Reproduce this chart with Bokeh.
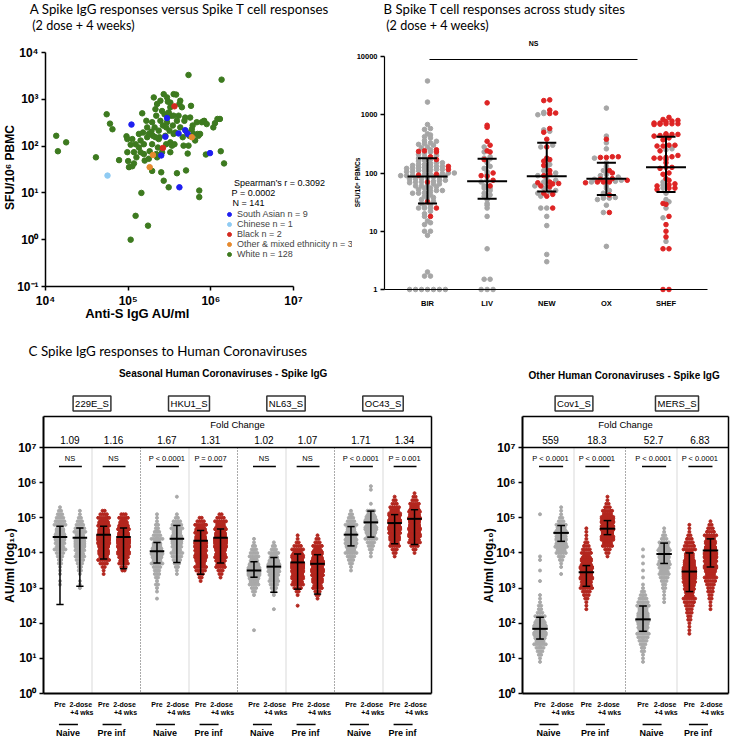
import math
import json
import numpy as np
from bokeh.plotting import figure
from bokeh.models import (Label, Arrow, FixedTicker, Legend, LegendItem,
                          Range1d, CustomJSTickFormatter)
from bokeh.layouts import row, column
from bokeh.embed import file_html
from bokeh.resources import INLINE

# ====================== DATA ======================
# Panel A: log10(anti-S IgG AU/ml) and log10(SFU / 10^6 PBMC) per participant
a_white_log_igg = [4.13, 4.15, 4.25, 4.61, 4.74, 4.78, 4.81, 4.89, 4.98, 4.99,
                   4.99, 5.00, 5.01, 5.03, 5.05, 5.07, 5.09, 5.10, 5.13, 5.15,
                   5.16, 5.17, 5.18, 5.19, 5.20, 5.22, 5.23, 5.03, 5.09, 5.24,
                   5.25, 5.26, 5.28, 5.29, 5.30, 5.32, 5.33, 5.34, 5.35, 5.36,
                   5.37, 5.38, 5.39, 5.40, 5.41, 5.42, 5.43, 5.44, 5.45, 5.46,
                   5.47, 5.48, 5.49, 5.49, 5.50, 5.51, 5.52, 5.53, 5.54, 5.55,
                   5.56, 5.58, 5.59, 5.61, 5.62, 5.63, 5.65, 5.66, 5.68, 5.70,
                   5.72, 5.73, 5.73, 5.74, 5.76, 5.77, 5.78, 5.81, 5.83, 5.84,
                   5.86, 5.86, 5.87, 5.89, 5.91, 5.94, 6.05, 6.08, 6.11, 6.12,
                   6.13, 6.16, 5.31, 5.35, 5.39, 5.47, 5.29, 5.37, 5.55, 5.63,
                   5.13, 5.15, 5.05, 5.07, 5.25, 5.29, 5.34, 5.51, 5.57, 5.69,
                   5.75, 5.79, 5.85, 5.92, 6.03, 5.95, 5.41, 5.43, 5.59, 5.19,
                   5.23, 5.51, 5.33, 5.46, 5.55, 5.71, 5.67, 5.51]
a_white_log_sfu = [2.22, 1.89, 2.08, 1.76, 2.68, 2.48, 2.36, 1.70, 2.21, 2.15,
                   1.87, 1.68, 1.55, 2.03, 1.57, 1.63, 2.04, 1.76, 1.97, 1.87,
                   1.00, 2.70, 2.29, 2.04, 1.69, 2.54, 2.19, 0.00, 0.51, 0.30,
                   2.26, 1.89, 2.31, 2.04, 2.22, 2.40, 2.79, 2.65, 1.76, 1.97,
                   2.33, 2.19, 2.54, 1.44, 1.87, 2.44, 1.26, 2.68, 2.22, 2.04,
                   2.51, 2.95, 2.72, 1.12, 2.33, 2.08, 2.65, 2.01, 2.44, 2.26,
                   2.04, 3.10, 1.42, 2.65, 2.90, 2.40, 2.83, 2.19, 2.54, 1.48,
                   1.84, 2.01, 3.52, 2.22, 2.86, 2.36, 2.44, 2.12, 2.51, 2.26,
                   1.05, 0.91, 2.26, 2.51, 2.53, 1.82, 2.49, 2.58, 2.58, 1.89,
                   3.42, 1.63, 3.04, 2.90, 2.97, 3.04, 2.51, 2.15, 3.11, 2.97,
                   2.26, 2.12, 2.15, 1.87, 1.73, 1.47, 1.83, 1.87, 2.29, 2.61,
                   2.61, 2.26, 2.22, 2.54, 2.40, 2.47, 2.75, 3.11, 2.54, 1.83,
                   2.40, 2.83, 2.19, 2.40, 2.65, 2.29, 2.01, 2.93]
a_sasian_log_igg = [5.04, 5.47, 5.61, 5.69, 5.72, 5.40, 5.62, 5.99, 5.45]
a_sasian_log_sfu = [2.46, 2.60, 2.27, 2.34, 2.26, 1.80, 1.12, 1.85, 2.20]
a_chinese_log_igg = [4.75]
a_chinese_log_sfu = [1.37]
a_black_log_igg = [5.56, 5.42]
a_black_log_sfu = [2.85, 1.96]
a_other_log_igg = [5.26, 5.30, 5.77]
a_other_log_sfu = [1.55, 1.81, 2.19]
a_group_labels = ["South Asian n = 9", "Chinese n = 1", "Black n = 2",
                  "Other & mixed ethnicity n = 3", "White n = 128"]
a_stats = ["Spearman\u2019s r = 0.3092", "P = 0.0002", "N = 141"]

# Panel B: SFU / 10^6 PBMCs per site (grey and red points)
b_sites = ["BIR", "LIV", "NEW", "OX", "SHEF"]
b_bir_grey = [3800, 1650, 680, 580, 560, 470, 450, 420, 400, 360, 350, 330, 320, 310, 300,
              280, 270, 250, 230, 220, 210, 200, 190, 180, 170, 165, 160, 150, 150, 145,
              140, 140, 135, 130, 130, 128, 125, 125, 120, 120, 115, 115, 112, 110, 110,
              105, 105, 100, 100, 98, 95, 95, 92, 90, 90, 88, 85, 85, 82, 80, 80, 78, 75,
              75, 72, 70, 70, 68, 65, 65, 62, 60, 60, 58, 55, 55, 52, 50, 50, 48, 46, 45,
              45, 42, 40, 38, 36, 35, 33, 30, 28, 26, 25, 25, 25, 22, 20, 18, 15, 14, 13,
              10, 10, 8.5, 2, 1.7, 1.7, 1, 1, 1, 1, 1, 1, 1]
b_bir_red = [250, 240, 235, 230, 190, 170, 130, 115, 95, 92, 70, 32, 25, 18]
b_liv_grey = [280, 230, 190, 180, 175, 150, 130, 120, 105, 95, 75, 70, 60, 55, 55, 50, 45,
              42, 40, 35, 30, 28, 25, 18, 5, 1.5, 1.5, 1, 1, 1]
b_liv_red = [1600, 660, 610, 350, 300, 240, 230, 170, 100, 90, 88, 75, 60]
b_new_grey = [1100, 1050, 1000, 550, 520, 300, 280, 140, 130, 110, 100, 90, 80, 75, 70, 65,
              60, 55, 50, 48, 45, 40, 25, 25, 18, 12.5, 4, 3]
b_new_red = [1800, 1750, 1200, 1070, 1050, 580, 500, 380, 280, 180, 170, 160, 135, 110, 95,
             90, 70, 68, 66, 65, 60, 58, 45, 43, 40, 25]
b_ox_grey = [1300, 430, 330, 260, 180, 150, 130, 110, 95, 90, 85, 80, 78, 75, 72, 70, 60,
             55, 50, 45, 40, 38, 37, 37, 35, 28, 21, 5.5]
b_ox_red = [380, 190, 190, 185, 185, 110, 100, 80, 78, 75, 70, 70, 70, 68, 42, 21]
b_shef_grey = [260, 250, 70, 62, 55, 45, 35, 32, 25, 17, 6.7]
b_shef_red = [900, 830, 800, 780, 760, 720, 720, 700, 700, 700, 690, 680, 470, 460, 460, 450,
              440, 430, 400, 370, 300, 300, 290, 290, 240, 200, 190, 185, 180, 180, 170, 150,
              125, 125, 120, 100, 95, 80, 75, 65, 63, 60, 55, 55, 52, 30, 29, 18, 13, 10, 8,
              5, 5, 1, 1]
b_median = [87, 72, 88, 80, 125]
b_q1 = [30, 36, 48, 42, 47]
b_q3 = [180, 175, 330, 150, 420]

# Panel C: per column (antigen x group x timepoint) histogram of log10 AU/ml
# columns per antigen: Naive Pre, Naive 2-dose, Pre-inf Pre, Pre-inf 2-dose
c_left_antigens = ["229E_S", "HKU1_S", "NL63_S", "OC43_S"]
c_right_antigens = ["Cov1_S", "MERS_S"]
c_fold_left = ["1.09", "1.16", "1.67", "1.31", "1.02", "1.07", "1.71", "1.34"]
c_fold_right = ["559", "18.3", "52.7", "6.83"]
c_p_left = ["NS", "NS", "P < 0.0001", "P = 0.007", "NS", "NS", "P < 0.0001", "P = 0.001"]
c_p_right = ["P < 0.0001", "P < 0.0001", "P < 0.0001", "P < 0.0001"]
c_bin_width_log10 = 0.1
c_bin_start_log10 = [3.1, 3.0, 3.4, 3.5, 2.7, 3.4, 3.2, 3.3, 1.8, 2.4, 2.5, 2.7,
                     3.5, 3.9, 3.9, 4.0, 0.9, 3.4, 2.4, 3.9, 0.9, 2.6, 1.7, 2.4]
c_bin_counts = [
    [1, 1, 0, 1, 1, 1, 2, 2, 3, 4, 6, 7, 9, 10, 10, 8, 7, 6, 5, 4, 3, 2, 1],
    [1, 1, 1, 0, 1, 2, 2, 3, 4, 5, 7, 9, 10, 10, 9, 8, 6, 5, 4, 3, 2, 1, 1],
    [1, 1, 2, 4, 6, 8, 10, 13, 15, 17, 18, 17, 15, 13, 11, 9, 6, 4, 2],
    [2, 3, 5, 7, 9, 12, 15, 17, 18, 17, 15, 13, 11, 9, 7, 5, 3],
    [1, 0, 1, 1, 2, 1, 2, 3, 3, 4, 6, 8, 10, 11, 10, 8, 7, 6, 4, 3, 2, 2, 1, 1, 1],
    [1, 1, 2, 3, 4, 5, 6, 7, 9, 10, 10, 9, 8, 6, 5, 4, 2, 1, 0, 0, 0, 0, 1],
    [1, 2, 3, 5, 6, 8, 10, 12, 14, 16, 17, 17, 15, 13, 11, 9, 6, 4, 2],
    [1, 2, 3, 5, 7, 9, 11, 13, 15, 17, 18, 17, 15, 13, 11, 8, 6, 4, 2],
    [1, 0, 0, 0, 0, 0, 0, 0, 0, 0, 1, 2, 3, 5, 8, 10, 12, 12, 11, 9, 7, 5, 4, 3, 2, 1, 1],
    [1, 0, 0, 0, 1, 2, 3, 4, 5, 7, 9, 11, 12, 11, 9, 7, 5, 3, 2, 1],
    [1, 0, 0, 1, 2, 4, 6, 9, 12, 15, 17, 18, 17, 15, 12, 9, 6, 4, 2, 1, 1],
    [1, 2, 3, 5, 7, 10, 13, 16, 18, 19, 18, 16, 13, 10, 7, 5, 3, 2, 1],
    [1, 1, 2, 3, 4, 6, 8, 10, 11, 11, 10, 9, 8, 6, 4, 3, 2, 1],
    [1, 1, 2, 3, 4, 6, 8, 10, 12, 13, 12, 10, 7, 4, 0, 1, 0, 0, 0, 1, 1],
    [1, 2, 3, 5, 7, 10, 13, 16, 18, 19, 18, 15, 12, 8, 5, 3, 2, 1],
    [1, 2, 4, 6, 9, 12, 15, 17, 19, 19, 17, 14, 11, 8, 5, 3, 2, 1],
    [1, 1, 2, 3, 4, 6, 8, 10, 12, 13, 12, 10, 7, 5, 3, 2, 2, 1, 1, 1,
     0, 0, 0, 1, 0, 0, 1, 0, 0, 1, 1, 0, 0, 0, 0, 0, 0, 0, 0, 0, 0, 0, 1],
    [1, 0, 1, 1, 2, 3, 5, 8, 11, 13, 14, 13, 11, 8, 5, 3, 2, 1, 1, 1],
    [1, 1, 1, 2, 3, 4, 6, 9, 13, 17, 20, 20, 17, 13, 10, 7, 5, 4, 3, 2, 1, 1, 1, 1],
    [1, 2, 3, 5, 8, 12, 16, 20, 22, 21, 17, 12, 8, 5, 3, 2, 1, 1],
    [1, 1, 1, 2, 2, 3, 4, 5, 6, 8, 9, 10, 11, 10, 9, 8, 6, 5, 4, 3,
     2, 1, 1, 0, 1, 0, 1, 0, 1, 0, 1, 0, 1],
    [1, 1, 1, 1, 2, 2, 3, 4, 5, 7, 9, 11, 13, 14, 13, 11, 8, 5, 3, 2, 1, 1],
    [1, 1, 1, 1, 2, 2, 3, 3, 4, 5, 6, 7, 8, 9, 10, 11, 12, 12, 12, 11, 10, 9, 8, 7,
     6, 5, 4, 3, 2, 1, 1, 1],
    [1, 1, 1, 2, 2, 3, 3, 4, 5, 6, 8, 10, 12, 14, 16, 17, 17, 15, 13, 10, 8, 6, 4, 3, 2, 1],
]
c_median_log10 = [4.45, 4.43, 4.52, 4.45, 4.05, 4.40, 4.35, 4.43, 3.50, 3.61, 3.73, 3.69,
                  4.52, 4.87, 4.85, 4.97, 1.84, 4.57, 3.45, 4.69, 2.11, 3.97, 3.47, 4.07]
c_lo_log10 = [2.53, 3.05, 3.83, 3.55, 3.71, 3.73, 3.39, 3.71, 3.31, 2.88, 2.97, 2.83,
              4.20, 4.45, 4.26, 4.24, 1.55, 4.33, 3.05, 4.52, 1.77, 3.70, 2.90, 3.60]
c_hi_log10 = [4.76, 4.71, 4.76, 4.71, 4.30, 4.78, 4.64, 4.68, 3.75, 3.87, 3.97, 3.95,
              4.75, 5.19, 5.09, 5.23, 2.17, 4.78, 3.64, 4.92, 2.49, 4.28, 4.00, 4.40]

# ====================== STYLE / LAYOUT ======================
TITLE_FONT = "Lato"
AX_FONT = "Liberation Sans"
GREEN, BLUE, LBLUE, RED_A, ORANGE = "#3d7a1f", "#1f1ff0", "#8fcbf3", "#d42a20", "#e68a2e"
B_GREY, B_RED = "#a6a6a6", "#de2424"
C_GREY, C_RED = "#a9a9a9", "#b3261e"
COL_OFFS = [0.68, 1.5, 2.48, 3.3]


class Geo:
    """Canvas placement (page px) and px<->data anchors of one figure."""
    def __init__(self, x0, y0, W, H, xa, xb, ya, yb, xlog, ylog):
        self.x0, self.y0, self.W, self.H = x0, y0, W, H
        self.xa, self.xb, self.ya, self.yb = xa, xb, ya, yb
        self.xlog, self.ylog = xlog, ylog

    def _v(self, a, b, pix):
        return a[1] + (pix - a[0]) * (b[1] - a[1]) / (b[0] - a[0])

    def xd(self, px):
        v = self._v(self.xa, self.xb, px)
        return 10 ** v if self.xlog else v

    def yd(self, py):
        v = self._v(self.ya, self.yb, py)
        return 10 ** v if self.ylog else v

    def xpx(self, xdata):
        v = math.log10(xdata) if self.xlog else xdata
        a, b = self.xa, self.xb
        return a[0] + (v - a[1]) * (b[0] - a[0]) / (b[1] - a[1])

    def fig(self):
        return figure(width=self.W, height=self.H,
                      x_range=Range1d(self.xd(self.x0), self.xd(self.x0 + self.W)),
                      y_range=Range1d(self.yd(self.y0 + self.H), self.yd(self.y0)),
                      x_axis_type="log" if self.xlog else "linear",
                      y_axis_type="log" if self.ylog else "linear",
                      min_border_left=0, min_border_right=0, min_border_top=0,
                      min_border_bottom=0, output_backend="svg", toolbar_location=None)


GA = Geo(0, 0, 352, 328, (45, 4), (293, 7), (286, -1), (52, 4), True, True)
GB = Geo(352, 0, 378, 328, (427, 0), (665.5, 4), (289, 0), (56, 4), False, True)
GC1 = Geo(0, 328, 470, 410, (43, 0), (431, 16), (693, 0), (447, 7), False, True)
GC2 = Geo(470, 328, 260, 410, (522, 0), (728, 8), (693, 0), (447, 7), False, True)


def sup_formatter():
    return CustomJSTickFormatter(code="""
const s = {"0":"\u2070","1":"\u00b9","2":"\u00b2","3":"\u00b3","4":"\u2074","5":"\u2075",
           "6":"\u2076","7":"\u2077","8":"\u2078","9":"\u2079","-":"\u207b"};
const e = Math.round(Math.log10(tick));
return "10" + String(e).split("").map(c => s[c]).join("");
""")


def base_style(p):
    p.grid.visible = False
    p.outline_line_color = None
    p.background_fill_color = "white"
    p.border_fill_color = "white"
    for ax in p.axis:
        ax.axis_line_color = None
        ax.major_tick_line_color = "black"
        ax.major_tick_line_width = 1.5
        ax.major_tick_out = 4
        ax.major_tick_in = 0
        ax.minor_tick_line_color = None
        ax.major_label_text_font = AX_FONT
        ax.major_label_text_font_style = "bold"
        ax.major_label_text_color = "black"
        ax.major_label_standoff = 3


def ptext(p, g, px, py, text, size="9px", bold=False, align="center", baseline="middle",
          angle=0.0, font=AX_FONT, color="black", **kw):
    p.add_layout(Label(x=px - g.x0, y=g.y0 + g.H - py, x_units="screen", y_units="screen",
                       text=text, text_font=font, text_font_size=size,
                       text_font_style="bold" if bold else "normal", text_align=align,
                       text_baseline=baseline, angle=angle, text_color=color, **kw))


def pline(p, g, px0, py0, px1, py1, width=1.2, color="black", dash="solid"):
    p.add_layout(Arrow(start=None, end=None,
                       x_start=px0 - g.x0, y_start=g.y0 + g.H - py0,
                       x_end=px1 - g.x0, y_end=g.y0 + g.H - py1,
                       start_units="screen", end_units="screen",
                       line_width=width, line_color=color, line_dash=dash))


def swarm(vals, step, bin_h):
    logs = np.log10(np.asarray(vals, dtype=float))
    order = np.argsort(logs, kind="stable")
    groups = {}
    for i in order:
        groups.setdefault(int(np.floor(logs[i] / bin_h + 0.5)), []).append(i)
    off = np.zeros(len(vals))
    for idx in groups.values():
        n = len(idx)
        for k, i in enumerate(idx):
            off[i] = (k - (n - 1) / 2) * step
    return off


def hist_points(start, counts, cx, step=0.09, per_row=6):
    xs, ys = [], []
    for j, n in enumerate(counts):
        if n == 0:
            continue
        c = start + c_bin_width_log10 * j
        nrows = math.ceil(n / per_row)
        base, extra = divmod(n, nrows)
        for r in range(nrows):
            m = base + (1 if r < extra else 0)
            dy = (r - (nrows - 1) / 2) * (c_bin_width_log10 / nrows)
            for q in range(m):
                xs.append(cx + (q - (m - 1) / 2) * step)
                ys.append(10 ** (c + dy))
    return xs, ys


# ====================== PANEL A ======================
pA = GA.fig()
base_style(pA)
pA.xaxis.ticker = FixedTicker(ticks=[1e4, 1e5, 1e6, 1e7])
pA.yaxis.ticker = FixedTicker(ticks=[0.1, 1, 10, 100, 1000, 10000])
pA.xaxis.formatter = sup_formatter()
pA.yaxis.formatter = sup_formatter()
pA.axis.major_label_text_font_size = "12px"
pA.xaxis.fixed_location = 0.1
pA.yaxis.fixed_location = 1e4
pline(pA, GA, 45, 286, 293, 286, width=1.5)
pline(pA, GA, 45, 286, 45, 52, width=1.5)

groups_A = [
    (a_white_log_igg, a_white_log_sfu, GREEN),
    (a_sasian_log_igg, a_sasian_log_sfu, BLUE),
    (a_chinese_log_igg, a_chinese_log_sfu, LBLUE),
    (a_black_log_igg, a_black_log_sfu, RED_A),
    (a_other_log_igg, a_other_log_sfu, ORANGE),
]
rends = []
for lx, ly, col in groups_A:
    rends.append(pA.scatter(10 ** np.array(lx), 10 ** np.array(ly), size=5.5, color=col))
legend = Legend(items=[LegendItem(label=a_group_labels[0], renderers=[rends[1]]),
                       LegendItem(label=a_group_labels[1], renderers=[rends[2]]),
                       LegendItem(label=a_group_labels[2], renderers=[rends[3]]),
                       LegendItem(label=a_group_labels[3], renderers=[rends[4]]),
                       LegendItem(label=a_group_labels[4], renderers=[rends[0]])],
                location=(224, 69), label_text_font=AX_FONT, label_text_font_size="9px",
                glyph_height=10, glyph_width=10, label_height=10, spacing=0, padding=0,
                margin=0, border_line_color=None, background_fill_alpha=0, label_standoff=3)
pA.add_layout(legend)
ptext(pA, GA, 279, 182, a_stats[0], size="9px")
ptext(pA, GA, 253, 192, a_stats[1], size="9px")
ptext(pA, GA, 248, 202, a_stats[2], size="9px")
ptext(pA, GA, 181, 8, "A  Spike IgG responses versus Spike T cell responses", size="13.3px",
      font=TITLE_FONT)
ptext(pA, GA, 83, 25, "(2 dose + 4 weeks)", size="12.6px", font=TITLE_FONT)
ptext(pA, GA, 9, 167, "SFU/10\u2076 PBMC", size="12px", bold=True, angle=math.pi / 2)
ptext(pA, GA, 137, 313, "Anti-S IgG AU/ml", size="13px", bold=True)

# ====================== PANEL B ======================
pB = GB.fig()
base_style(pB)
pB.yaxis.ticker = FixedTicker(ticks=[1, 10, 100, 1000, 10000])
pB.yaxis.formatter = CustomJSTickFormatter(code="return String(Math.round(tick));")
pB.xaxis.ticker = FixedTicker(ticks=[0, 1, 2, 3, 4])
pB.xaxis.formatter = CustomJSTickFormatter(
    code="const n = " + json.dumps(b_sites) + "; return n[Math.round(tick)] || '';")
pB.xaxis.major_tick_line_color = None
pB.xaxis.major_label_standoff = 5
pB.axis.major_label_text_font_size = "7.5px"
pB.xaxis.fixed_location = 1
pB.yaxis.fixed_location = GB.xd(384)
pline(pB, GB, 384, 289, 707, 289, width=1.2)
pline(pB, GB, 384, 289, 384, 56, width=1.2)

b_grey_lists = [b_bir_grey, b_liv_grey, b_new_grey, b_ox_grey, b_shef_grey]
b_red_lists = [b_bir_red, b_liv_red, b_new_red, b_ox_red, b_shef_red]
gx, gy, rx, ry = [], [], [], []
for i in range(len(b_sites)):
    vals = list(b_grey_lists[i]) + list(b_red_lists[i])
    off = swarm(vals, step=0.1, bin_h=0.06)
    ng = len(b_grey_lists[i])
    for k, v in enumerate(vals):
        if k < ng:
            gx.append(i + off[k]); gy.append(v)
        else:
            rx.append(i + off[k]); ry.append(v)
pB.scatter(gx, gy, size=4.6, color=B_GREY)
pB.scatter(rx, ry, size=4.6, color=B_RED)
bx = np.arange(len(b_sites), dtype=float)
pB.segment(bx, b_q1, bx, b_q3, line_color="black", line_width=2)
pB.segment(bx - 0.16, b_q1, bx + 0.16, b_q1, line_color="black", line_width=2)
pB.segment(bx - 0.16, b_q3, bx + 0.16, b_q3, line_color="black", line_width=2)
pB.segment(bx - 0.335, b_median, bx + 0.335, b_median, line_color="black", line_width=2)
ptext(pB, GB, 506, 8, "B  Spike T cell responses across study sites", size="13.2px",
      font=TITLE_FONT)
ptext(pB, GB, 437, 25, "(2 dose + 4 weeks)", size="12.6px", font=TITLE_FONT)
ptext(pB, GB, 533, 43, "NS", size="7px", bold=True)
pline(pB, GB, 429, 59, 637, 59, width=1.2)
ptext(pB, GB, 357, 182, "SFU/10\u2076 PBMCs", size="6.5px", bold=True, angle=math.pi / 2)


# ====================== PANEL C ======================
def c_panel(g, names, folds, pvals, col0):
    nv = len(names)
    xmax = 4 * nv
    p = g.fig()
    base_style(p)
    p.yaxis.ticker = FixedTicker(ticks=[10 ** k for k in range(8)])
    p.yaxis.formatter = sup_formatter()
    p.yaxis.major_label_text_font_size = "12px"
    p.yaxis.fixed_location = 0
    p.xaxis.visible = False

    L, R = g.xpx(0), g.xpx(xmax)
    T, B, H7 = 416, 693, 447
    for v in range(1, nv):
        xs = g.xpx(4 * v)
        pline(p, g, xs, H7, xs, B, width=1, color="#555555", dash="1 2")
    for v in range(nv):
        xs = g.xpx(4 * v + 2)
        pline(p, g, xs, H7, xs, B, width=1, color="#d9d9d9")

    gx, gy, rx, ry = [], [], [], []
    bx, bmed, blo, bhi = [], [], [], []
    for k in range(4 * nv):
        v, j = divmod(k, 4)
        idx = col0 + k
        cx = 4 * v + COL_OFFS[j]
        xs, ys = hist_points(c_bin_start_log10[idx], c_bin_counts[idx], cx)
        if j < 2:
            gx += xs; gy += ys
        else:
            rx += xs; ry += ys
        bx.append(cx)
        bmed.append(10 ** c_median_log10[idx])
        blo.append(10 ** c_lo_log10[idx])
        bhi.append(10 ** c_hi_log10[idx])
    p.scatter(gx, gy, size=3, color=C_GREY)
    p.scatter(rx, ry, size=3, color=C_RED)
    bx = np.array(bx)
    p.segment(bx, blo, bx, bhi, line_color="black", line_width=1.5)
    p.segment(bx - 0.15, blo, bx + 0.15, blo, line_color="black", line_width=1.5)
    p.segment(bx - 0.15, bhi, bx + 0.15, bhi, line_color="black", line_width=1.5)
    p.segment(bx - 0.3, bmed, bx + 0.3, bmed, line_color="black", line_width=2)

    pline(p, g, L, T, R, T, width=1.5)
    pline(p, g, R, T, R, B, width=1.5)
    pline(p, g, L, H7, R, H7, width=1.5)
    pline(p, g, L, T, L, B, width=2)
    pline(p, g, L, B, R, B, width=2)

    ptext(p, g, (L + R) / 2, 424, "Fold Change", size="9.5px")
    for v in range(nv):
        ptext(p, g, g.xpx(4 * v + 2), 403, names[v], size="9.5px",
              border_line_color="#333333", border_line_width=1.5,
              background_fill_color="white", padding=2)
        for gi in range(2):
            xa = g.xpx(4 * v + COL_OFFS[2 * gi])
            xb = g.xpx(4 * v + COL_OFFS[2 * gi + 1])
            xc = (xa + xb) / 2
            ptext(p, g, xc, 439, folds[2 * v + gi], size="10px")
            ptext(p, g, xc, 458, pvals[2 * v + gi], size="7.5px")
            pline(p, g, xa - 1, 466, xb + 2, 466, width=1.5)
            ptext(p, g, xa, 704, "Pre", size="7px", bold=True)
            ptext(p, g, xb + 1, 704, "2-dose", size="7px", bold=True)
            ptext(p, g, xb + 2, 712, "+4 wks", size="7px", bold=True)
            pline(p, g, xc - 11, 724, xc + 8, 724, width=1.5)
            ptext(p, g, xc - 2, 732, "Naive" if gi == 0 else "Pre inf", size="9px",
                  bold=True)
    return p


pC1 = c_panel(GC1, c_left_antigens, c_fold_left, c_p_left, 0)
pC2 = c_panel(GC2, c_right_antigens, c_fold_right, c_p_right, 16)
ptext(pC1, GC1, 169, 350, "C  Spike IgG responses to Human Coronaviruses", size="13.4px",
      font=TITLE_FONT)
ptext(pC1, GC1, 224, 373, "Seasonal Human Coronaviruses -  Spike IgG", size="10px", bold=True)
ptext(pC2, GC2, 625, 375, "Other Human Coronaviruses -  Spike IgG", size="10px", bold=True)
ptext(pC1, GC1, 9, 565, "AU/ml (log\u2081\u2080)", size="12px", bold=True, angle=math.pi / 2)
ptext(pC2, GC2, 488, 565, "AU/ml (log\u2081\u2080)", size="12px", bold=True,
      angle=math.pi / 2)

layout = column(row(pA, pB), row(pC1, pC2))
open("out.html", "w").write(file_html(layout, INLINE, title="Spike responses"))
